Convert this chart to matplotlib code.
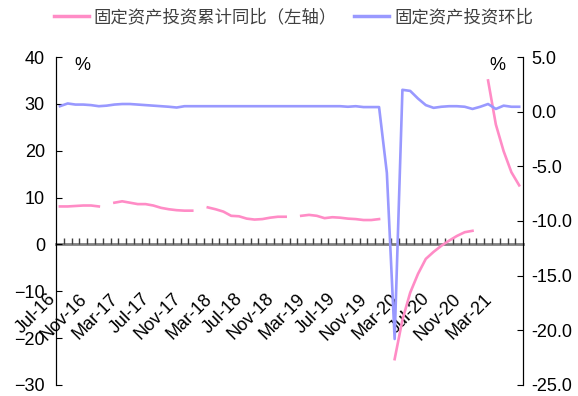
import numpy as np
import pandas as pd
import matplotlib
matplotlib.use('Agg')
import matplotlib.pyplot as plt
import matplotlib.transforms as mtransforms
from matplotlib.lines import Line2D

plt.rcParams['font.family'] = ['Liberation Sans', 'Noto Sans CJK SC', 'DejaVu Sans']

months = pd.date_range('2016-07-01', periods=60, freq='MS')
month_labels = [m.strftime('%b-%y') for m in months]

# cumulative YoY (%), January not published
fai_yoy = [8.1, 8.1, 8.2, 8.3, 8.3, 8.1,
           np.nan, 8.9, 9.2, 8.9, 8.6, 8.6, 8.3, 7.8, 7.5, 7.3, 7.2, 7.2,
           np.nan, 7.9, 7.5, 7.0, 6.1, 6.0, 5.5, 5.3, 5.4, 5.7, 5.9, 5.9,
           np.nan, 6.1, 6.3, 6.1, 5.6, 5.8, 5.7, 5.5, 5.4, 5.2, 5.2, 5.4,
           np.nan, -24.5, -16.1, -10.3, -6.3, -3.1, -1.6, -0.3, 0.8, 1.8, 2.6, 2.9,
           np.nan, 35.0, 25.6, 19.9, 15.4, 12.6]

# month-on-month (%)
fai_mom = [0.5, 0.75, 0.65, 0.65, 0.6, 0.5,
           0.55, 0.65, 0.7, 0.7, 0.65, 0.6, 0.55, 0.5, 0.45, 0.38, 0.5, 0.5,
           0.5, 0.5, 0.5, 0.5, 0.5, 0.5, 0.5, 0.5, 0.5, 0.5, 0.5, 0.5,
           0.5, 0.5, 0.5, 0.5, 0.5, 0.5, 0.5, 0.45, 0.5, 0.42, 0.42, 0.42,
           -5.6, -20.8, 2.0, 1.9, 1.2, 0.6, 0.35, 0.45, 0.5, 0.5, 0.45, 0.25,
           0.45, 0.7, 0.25, 0.55, 0.45, 0.45]

pink = '#FF8CC6'
blue = '#9999FF'
x = np.arange(len(months))

fig, ax = plt.subplots(figsize=(5.78, 3.96), dpi=100)
fig.subplots_adjust(left=0.0969, right=0.905, top=0.856, bottom=0.028)
ax2 = ax.twinx()

ax.plot(x, fai_yoy, color=pink, lw=1.9)
ax2.plot(x, fai_mom, color=blue, lw=1.9)

ax.set_xlim(-0.5, len(months) - 0.5)
ax.set_ylim(-30, 40)
ax.set_yticks(np.arange(-30, 41, 10))
ax2.set_ylim(-25, 5)
ax2.set_yticks(np.arange(-25, 5.1, 5))
ax2.set_yticklabels([f'{v:.1f}' for v in np.arange(-25, 5.1, 5)])

# category axis sits on the zero line
ax.spines['top'].set_visible(False)
ax2.spines['top'].set_visible(False)
ax2.spines['bottom'].set_visible(False)
ax.spines['bottom'].set_position(('data', 0))
ax.spines['bottom'].set_color('#808080')
ax.spines['bottom'].set_linewidth(2)
ax.spines['bottom'].set_zorder(0)

label_pos = x[::4]
ax.set_xticks(label_pos)
ax.set_xticklabels(month_labels[::4], rotation=45, ha='right', va='top',
                   rotation_mode='anchor', fontsize=13)
ax.set_xticks(np.arange(0.5, len(months) - 0.5, 1), minor=True)
ax.tick_params(axis='x', which='major', length=0, pad=33)
ax.tick_params(axis='x', which='minor', direction='in', length=4, width=1,
               color='#404040')
# nudge the rotated month labels left of their category
shift = mtransforms.ScaledTranslation(-9 / 72, 0, fig.dpi_scale_trans)
for lab in ax.get_xticklabels():
    lab.set_transform(lab.get_transform() + shift)

ax.tick_params(axis='y', direction='in', length=4, labelsize=13, pad=8)
ax2.tick_params(axis='y', direction='in', length=4, labelsize=13, pad=6)

ax.text(0.056, 1.0, '%', transform=ax.transAxes, fontsize=13,
        ha='center', va='top')
ax.text(0.946, 1.0, '%', transform=ax.transAxes, fontsize=13,
        ha='center', va='top')

handles = [Line2D([], [], color=pink, lw=2.5), Line2D([], [], color=blue, lw=2.5)]
fig.legend(handles, ['固定资产投资累计同比（左轴）', '固定资产投资环比'],
           loc='center', bbox_to_anchor=(0.508, 0.957), ncol=2, frameon=False,
           prop={'family': ['Noto Sans CJK SC', 'DejaVu Sans'], 'size': 12.5},
           labelcolor='#404040', handlelength=2.0, handletextpad=0.3,
           columnspacing=1.0)

fig.savefig('out.png', dpi=100)
